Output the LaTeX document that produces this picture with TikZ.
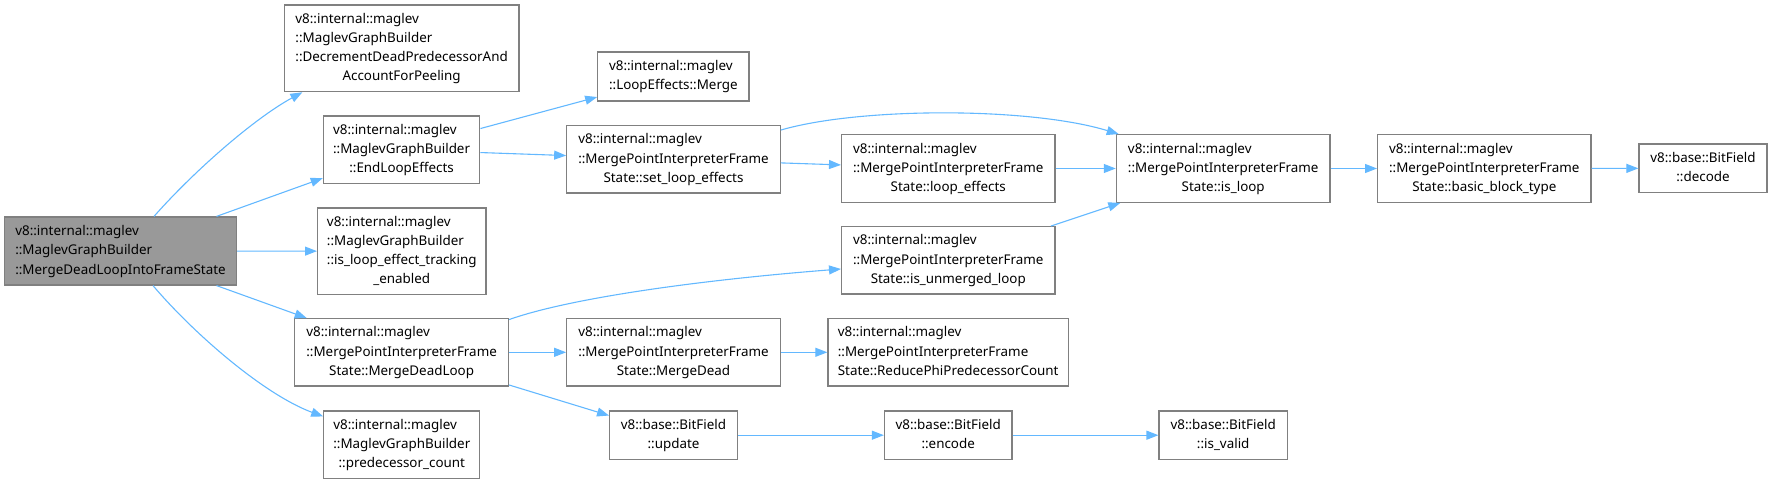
\documentclass[tikz,border=0pt]{standalone}
\usepackage{fontspec}
\setmainfont{Noto Sans}
\usetikzlibrary{arrows.meta}
\definecolor{edgec}{HTML}{63B8FF}
\definecolor{boxc}{HTML}{808080}
\definecolor{mainfill}{HTML}{999999}
\newcommand{\lastc}[1]{\multicolumn{1}{@{}c@{}}{#1}}
\begin{document}
\begin{tikzpicture}[x=1pt,y=-1pt,
  fn/.style={draw=boxc, line width=1.2pt, fill=white, inner sep=0pt, font=\fontsize{13.4}{19.2}\selectfont, text=black},
  edge/.style={draw=edgec, line width=1.1pt, -{Triangle[length=12pt,width=9pt]}}
]
\useasboundingbox (0,0) rectangle (1772,484);
% nodes
\node[fn, fill=mainfill, minimum width=232pt, minimum height=68pt] (main) at (120.5,251)
 {\begin{tabular}{@{}l@{}}v8::internal::maglev\\::MaglevGraphBuilder\\::MergeDeadLoopIntoFrameState\end{tabular}};
\node[fn, minimum width=234.6pt, minimum height=86.7pt] (dec) at (401.6,48.3)
 {\begin{tabular}{@{}l@{}}v8::internal::maglev\\::MaglevGraphBuilder\\::DecrementDeadPredecessorAnd\\\lastc{AccountForPeeling}\end{tabular}};
\node[fn, minimum width=156.5pt, minimum height=67.7pt] (endl) at (401.6,149.8)
 {\begin{tabular}{@{}l@{}}v8::internal::maglev\\::MaglevGraphBuilder\\\lastc{::EndLoopEffects}\end{tabular}};
\node[fn, minimum width=168.4pt, minimum height=86.3pt] (isle) at (401.8,251.2)
 {\begin{tabular}{@{}l@{}}v8::internal::maglev\\::MaglevGraphBuilder\\::is\_loop\_effect\_tracking\\\lastc{\_enabled}\end{tabular}};
\node[fn, minimum width=213.9pt, minimum height=67.3pt] (mdl) at (401.6,352.3)
 {\begin{tabular}{@{}l@{}}v8::internal::maglev\\::MergePointInterpreterFrame\\\lastc{State::MergeDeadLoop}\end{tabular}};
\node[fn, minimum width=156pt, minimum height=67.3pt] (pred) at (401.8,444.7)
 {\begin{tabular}{@{}l@{}}v8::internal::maglev\\::MaglevGraphBuilder\\\lastc{::predecessor\_count}\end{tabular}};
\node[fn, minimum width=151.2pt, minimum height=49pt] (lem) at (673.4,76.5)
 {\begin{tabular}{@{}l@{}}v8::internal::maglev\\::LoopEffects::Merge\end{tabular}};
\node[fn, minimum width=213.5pt, minimum height=67.3pt] (slf) at (673.5,159.3)
 {\begin{tabular}{@{}l@{}}v8::internal::maglev\\::MergePointInterpreterFrame\\\lastc{State::set\_loop\_effects}\end{tabular}};
\node[fn, minimum width=213.4pt, minimum height=67.6pt] (lef) at (948.3,168.5)
 {\begin{tabular}{@{}l@{}}v8::internal::maglev\\::MergePointInterpreterFrame\\\lastc{State::loop\_effects}\end{tabular}};
\node[fn, minimum width=213.4pt, minimum height=67.3pt] (ium) at (948.3,260.3)
 {\begin{tabular}{@{}l@{}}v8::internal::maglev\\::MergePointInterpreterFrame\\\lastc{State::is\_unmerged\_loop}\end{tabular}};
\node[fn, minimum width=213.5pt, minimum height=67.3pt] (md) at (673.5,352.3)
 {\begin{tabular}{@{}l@{}}v8::internal::maglev\\::MergePointInterpreterFrame\\\lastc{State::MergeDead}\end{tabular}};
\node[fn, minimum width=240.5pt, minimum height=67.3pt] (rpc) at (948.2,352.3)
 {\begin{tabular}{@{}l@{}}v8::internal::maglev\\::MergePointInterpreterFrame\\State::ReducePhiPredecessorCount\end{tabular}};
\node[fn, minimum width=127.7pt, minimum height=48.3pt] (upd) at (673.5,435.2)
 {\begin{tabular}{@{}c@{}}v8::base::BitField\\::update\end{tabular}};
\node[fn, minimum width=127.5pt, minimum height=48.3pt] (enc) at (948.2,435.2)
 {\begin{tabular}{@{}c@{}}v8::base::BitField\\::encode\end{tabular}};
\node[fn, minimum width=128.3pt, minimum height=48.3pt] (isv) at (1223.2,435.2)
 {\begin{tabular}{@{}c@{}}v8::base::BitField\\::is\_valid\end{tabular}};
\node[fn, minimum width=213.7pt, minimum height=67.6pt] (isl) at (1223.2,168.5)
 {\begin{tabular}{@{}l@{}}v8::internal::maglev\\::MergePointInterpreterFrame\\\lastc{State::is\_loop}\end{tabular}};
\node[fn, minimum width=213.3pt, minimum height=67.6pt] (bbt) at (1484.3,168.5)
 {\begin{tabular}{@{}l@{}}v8::internal::maglev\\::MergePointInterpreterFrame\\\lastc{State::basic\_block\_type}\end{tabular}};
\node[fn, minimum width=128pt, minimum height=48.7pt] (decd) at (1703,168.3)
 {\begin{tabular}{@{}c@{}}v8::base::BitField\\::decode\end{tabular}};
% edges
\draw[edge] ([xshift=33.5pt]main.north) .. controls (195,170) and (255,118) .. ([xshift=18.7pt]dec.south west);
\draw[edge] (main) -- (endl);
\draw[edge] (main) -- (isle);
\draw[edge] (main) -- (mdl);
\draw[edge] ([xshift=32.5pt]main.south) .. controls (195,335) and (265,395) .. ([yshift=-6pt]pred.north west);
\draw[edge] (endl) -- (lem);
\draw[edge] (endl) -- (slf);
\draw[edge] ([yshift=-5pt]slf.north east) .. controls (860,107) and (1030,107) .. ([xshift=3pt]isl.north west);
\draw[edge] (slf) -- (lef);
\draw[edge] (lef) -- (isl);
\draw[edge] (ium) -- (isl);
\draw[edge] ([yshift=-1.5pt]mdl.north east) .. controls (570,298) and (700,280) .. ([yshift=-8.7pt]ium.west);
\draw[edge] (mdl) -- (md);
\draw[edge] (mdl) -- (upd);
\draw[edge] (md) -- (rpc);
\draw[edge] (upd) -- (enc);
\draw[edge] (enc) -- (isv);
\draw[edge] (isl) -- (bbt);
\draw[edge] (bbt) -- (decd);
\end{tikzpicture}
\end{document}
